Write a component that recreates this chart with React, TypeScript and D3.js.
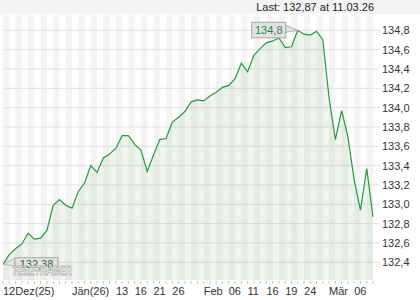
import React from "react";
import * as d3 from "d3";

const dates = [
  "12.12.25","15.12.25","16.12.25","17.12.25","18.12.25","19.12.25","22.12.25","23.12.25","29.12.25","30.12.25","31.12.25",
  "02.01.26","05.01.26","06.01.26","07.01.26","08.01.26","09.01.26","12.01.26","13.01.26","14.01.26","15.01.26","16.01.26",
  "19.01.26","20.01.26","21.01.26","22.01.26","23.01.26","26.01.26","27.01.26","28.01.26","29.01.26","30.01.26",
  "02.02.26","03.02.26","04.02.26","05.02.26","06.02.26","09.02.26","10.02.26","11.02.26","12.02.26","13.02.26",
  "16.02.26","17.02.26","18.02.26","19.02.26","20.02.26","23.02.26","24.02.26","25.02.26","26.02.26","27.02.26",
  "02.03.26","03.03.26","04.03.26","05.03.26","06.03.26","09.03.26","10.03.26","11.03.26",
];

const values = [
  132.38,132.48,132.54,132.59,132.70,132.64,132.65,132.73,132.99,133.05,132.99,
  132.96,133.13,133.22,133.40,133.33,133.48,133.52,133.58,133.71,133.71,133.62,
  133.56,133.34,133.51,133.67,133.68,133.85,133.90,133.96,134.06,134.08,
  134.07,134.12,134.16,134.21,134.23,134.30,134.46,134.37,134.54,134.61,
  134.67,134.69,134.72,134.62,134.63,134.80,134.76,134.75,134.79,134.70,
  134.10,133.67,133.97,133.70,133.25,132.94,133.37,132.87,
];

const xLabelIdx = [0, 11, 18, 21, 24, 27, 32, 36, 39, 42, 45, 48, 52, 56];
const xLabelText = ["12Dez(25)", "Jän(26)", "13", "16", "21", "26", "Feb", "06", "11", "16", "19", "24", "Mär", "06"];

const yTicks = [132.4, 132.6, 132.8, 133.0, 133.2, 133.4, 133.6, 133.8, 134.0, 134.2, 134.4, 134.6, 134.8];

const lastText = "Last: 132,87 at 11.03.26";
const highLabel = "134,8";
const lowLabel = "132,38";

const W = 420, H = 300;
const PL = 3, PR = 376, PT = 15, PB = 280;
const FONT = "'Liberation Sans', Arial, sans-serif";

export default function App() {
  const n = values.length;
  const x = d3.scaleLinear().domain([0, n - 1]).range([3, 373]);
  const y = d3.scaleLinear().domain([132.4, 134.8]).range([262.3, 30.3]);

  const line = d3.line<number>().x((_, i) => x(i)).y((d) => y(d));
  const area = d3.area<number>().x((_, i) => x(i)).y0(PB).y1((d) => y(d));

  const hiIdx = values.indexOf(d3.max(values) as number);
  const loIdx = values.indexOf(d3.min(values) as number);
  const hx = x(hiIdx), hy = y(values[hiIdx]);
  const lx = x(loIdx), ly = y(values[loIdx]);

  const stripes: JSX.Element[] = [];
  for (let i = 0; i < n; i += 2) {
    const a = Math.max(PL, x(i));
    const b = Math.min(PR, x(i + 1));
    if (b > a) stripes.push(<rect key={i} x={a} y={PT} width={b - a} height={PB - PT} fill="#f4f4f4" />);
  }

  const fmt = (v: number) => v.toFixed(1).replace(".", ",");

  return (
    <div style={{ position: "absolute", left: 0, top: 0 }}>
      <svg width={W} height={H} style={{ display: "block", fontFamily: FONT }}>
        <rect x={0} y={0} width={W} height={H} fill="#ffffff" />
        <rect x={0} y={0} width={W} height={14} fill="#f4f4f4" />
        <text x={374} y={11} textAnchor="end" fontSize={11} fill="#222">{lastText}</text>

        <defs>
          <clipPath id="plotclip">
            <rect x={PL} y={PT} width={PR - PL} height={PB - PT} />
          </clipPath>
        </defs>

        {stripes}

        {yTicks.map((t) => (
          <g key={t}>
            <line x1={PL} x2={380} y1={y(t)} y2={y(t)} stroke="#e0e0e0" strokeWidth={1} />
            <text x={382} y={y(t) + 4} fontSize={11} fill="#333">{fmt(t)}</text>
          </g>
        ))}

        <g clipPath="url(#plotclip)">
          <path d={area(values) || ""} fill="rgba(70,140,50,0.09)" />
          <path d={line(values) || ""} fill="none" stroke="#229a3c" strokeWidth={1.2} />
        </g>

        {values.map((_, i) => (
          <line key={i} x1={x(i)} x2={x(i)} y1={281} y2={284} stroke="#c4c4c4" strokeWidth={1} />
        ))}
        {xLabelIdx.map((idx, k) => (
          <text key={k} x={x(idx)} y={295} fontSize={11} fill="#333">{xLabelText[k]}</text>
        ))}

        {/* high label */}
        <polygon points={`${hx - 12},${hy - 5} ${hx},${hy} ${hx - 12},${hy + 2}`} fill="#e2e2e2" stroke="#aaa" strokeWidth={0.8} />
        <rect x={hx - 46} y={hy - 8} width={34} height={15.5} fill="#e2e2e2" stroke="#a8a8a8" strokeWidth={1} />
        <text x={hx - 29} y={hy + 4} textAnchor="middle" fontSize={11} fill="#2a8a3a">{highLabel}</text>

        {/* low label */}
        <polygon points={`${lx},${ly} ${lx + 12},${ly - 6} ${lx + 12},${ly + 2}`} fill="#e2e2e2" stroke="#aaa" strokeWidth={0.8} />
        <rect x={lx + 12} y={ly - 6.5} width={43} height={13} fill="#e2e2e2" stroke="#a8a8a8" strokeWidth={1} />
        <text x={lx + 33.5} y={ly + 4} textAnchor="middle" fontSize={11} fill="#2a6a32">{lowLabel}</text>

        <text x={12} y={275} fontSize={12.5} fontWeight="bold" fontStyle="italic" fill="#ffffff" stroke="#b0b0b0" strokeWidth={0.8}
          textLength={60} lengthAdjust="spacingAndGlyphs">TELETRADER</text>
      </svg>
    </div>
  );
}
